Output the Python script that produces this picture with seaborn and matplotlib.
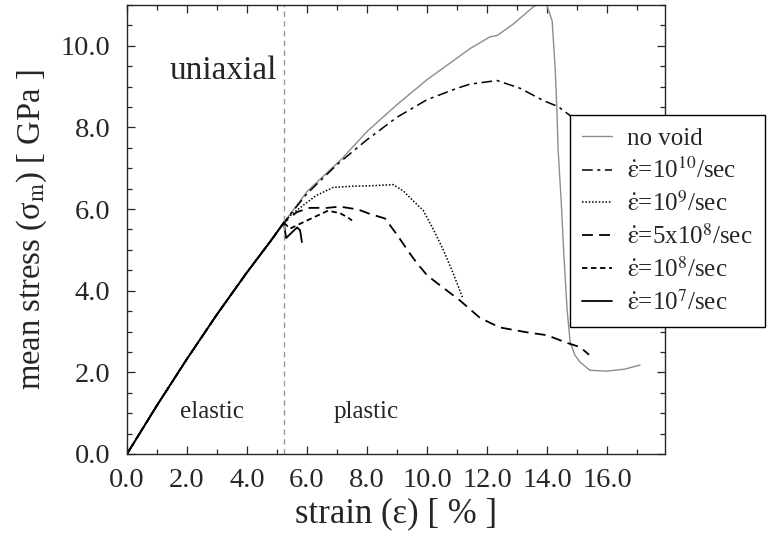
import matplotlib
matplotlib.use('Agg')
import numpy as np
import pandas as pd
import matplotlib.pyplot as plt
import seaborn as sns
from matplotlib.ticker import MultipleLocator, FormatStrFormatter

sns.set_style('ticks')
plt.rcParams['font.family'] = ['Liberation Serif', 'DejaVu Serif']
plt.rcParams['mathtext.fontset'] = 'stix'

# shared elastic branch (strain %, stress GPa)
elastic_x = [0.0, 1.0, 2.0, 3.0, 4.0, 4.77, 5.23]
elastic_y = [0.0, 1.19, 2.33, 3.42, 4.45, 5.2, 5.67]

# no void
novoid_x = [6.0, 7.17, 8.0, 9.0, 10.0, 11.43, 12.1, 12.33, 12.87, 13.6, 13.85, 14.0,
            14.17, 14.27, 14.33, 14.37, 14.47, 14.57, 14.67, 14.77, 14.93, 15.1,
            15.43, 16.0, 16.6, 17.1]
novoid_y = [6.43, 7.24, 7.9, 8.56, 9.17, 9.93, 10.22, 10.25, 10.53, 10.99, 11.29, 10.98,
            10.61, 9.46, 8.41, 7.43, 6.21, 4.74, 3.52, 2.74, 2.42, 2.25,
            2.05, 2.03, 2.08, 2.18]

# 10^10 /sec
r10_x = [6.0, 7.0, 8.0, 9.0, 10.0, 11.0, 11.43, 12.33, 13.1, 13.87, 14.37, 14.77, 15.2, 15.5]
r10_y = [6.38, 7.09, 7.7, 8.25, 8.68, 8.96, 9.06, 9.15, 8.96, 8.66, 8.51, 8.29, 7.95, 7.75]

# 10^9 /sec
r9_x = [5.5, 5.87, 6.3, 6.87, 7.5, 8.1, 8.87, 9.2, 9.5, 9.87, 10.2, 10.53, 10.87, 11.2]
r9_y = [5.88, 6.09, 6.33, 6.53, 6.56, 6.57, 6.6, 6.45, 6.23, 5.97, 5.52, 5.02, 4.43, 3.8]

# 5x10^8 /sec
r5e8_x = [5.67, 6.1, 6.67, 7.1, 7.7, 8.1, 8.6, 9.0, 9.43, 9.67, 10.0, 10.33, 11.1,
          11.77, 12.43, 13.33, 14.0, 14.67, 15.1, 15.4]
r5e8_y = [5.93, 6.03, 6.03, 6.06, 5.99, 5.88, 5.77, 5.37, 4.91, 4.67, 4.38, 4.19, 3.76,
          3.33, 3.1, 2.98, 2.91, 2.72, 2.62, 2.43]

# 10^8 /sec
r8_x = [5.43, 5.77, 6.2, 6.7, 7.1, 7.37, 7.5]
r8_y = [5.52, 5.64, 5.79, 5.96, 5.9, 5.79, 5.72]

# 10^7 /sec
r7_x = [5.3, 5.67, 5.77, 5.83]
r7_y = [5.29, 5.55, 5.48, 5.19]

vline_strain = 5.23

eps = r'$\dot{\mathrm{\varepsilon}}$'
labels = ['no void',
          eps + r'=10$^{10}$/sec',
          eps + r'=10$^{9}$/sec',
          eps + r'=5x10$^{8}$/sec',
          eps + r'=10$^{8}$/sec',
          eps + r'=10$^{7}$/sec']

series = [
    (novoid_x, novoid_y, '#8c8c8c', '-', 1.0),
    (r10_x, r10_y, 'black', (0, (7, 3, 2, 3)), 1.1),
    (r9_x, r9_y, 'black', (0, (1, 1.2)), 1.1),
    (r5e8_x, r5e8_y, 'black', (0, (6, 3.5)), 1.3),
    (r8_x, r8_y, 'black', (0, (3, 2)), 1.3),
    (r7_x, r7_y, 'black', '-', 1.3),
]

fig = plt.figure(figsize=(7.7, 5.37), dpi=100)
ax = fig.add_axes([0.1649, 0.1546, 0.6987, 0.8361])

# every curve starts on the shared elastic branch
handles = []
for (xs, ys, col, ls, lw), lab in zip(series, labels):
    df = pd.DataFrame({'strain': elastic_x + xs, 'stress': elastic_y + ys})
    sns.lineplot(data=df, x='strain', y='stress', ax=ax, color=col, linestyle=ls,
                 lw=lw, sort=False, estimator=None)
    handles.append(ax.lines[-1])

ax.axvline(vline_strain, color='#999999', lw=1.0, linestyle=(0, (4, 3)))

ax.set_xlim(0, 17.93)
ax.set_ylim(0, 11)
ax.xaxis.set_minor_locator(MultipleLocator(1))
ax.yaxis.set_major_locator(MultipleLocator(2))
ax.yaxis.set_minor_locator(MultipleLocator(0.5))
ax.xaxis.set_major_formatter(FormatStrFormatter('%.1f'))
ax.yaxis.set_major_formatter(FormatStrFormatter('%.1f'))
ax.set_xticks(np.arange(0, 17, 2))
ax.tick_params(which='both', direction='in', top=True, right=True, labelsize=20.5, width=0.9)
ax.tick_params(which='major', length=6)
ax.tick_params(which='minor', length=3.5)
ax.tick_params(axis='x', pad=10)
ax.tick_params(axis='y', pad=12)
for s in ax.spines.values():
    s.set_linewidth(1.0)

ax.set_xlabel('strain (ε) [ % ]', fontsize=25, labelpad=3)
ax.set_ylabel('mean stress (σ$_{\\rm m}$) [ GPa ]', fontsize=23.5, labelpad=8)

ax.text(5.0, 9.39, 'uniaxial', ha='right', va='center', fontsize=24)
ax.text(2.83, 1.02, 'elastic', ha='center', va='center', fontsize=18)
ax.text(7.97, 1.02, 'plastic', ha='center', va='center', fontsize=18)

# legend box runs off the right edge of the figure, as in the original
leg = ax.legend(handles, labels, loc='upper left', bbox_to_anchor=(0.740, 0.786),
                bbox_transform=fig.transFigure, borderaxespad=0, fontsize=18,
                frameon=True, fancybox=False, edgecolor='black', framealpha=1,
                handlelength=1.2, handletextpad=0.6, labelspacing=0.32,
                borderpad=0.5)
leg.get_frame().set_linewidth(1.0)

fig.savefig('out.png', dpi=100)
